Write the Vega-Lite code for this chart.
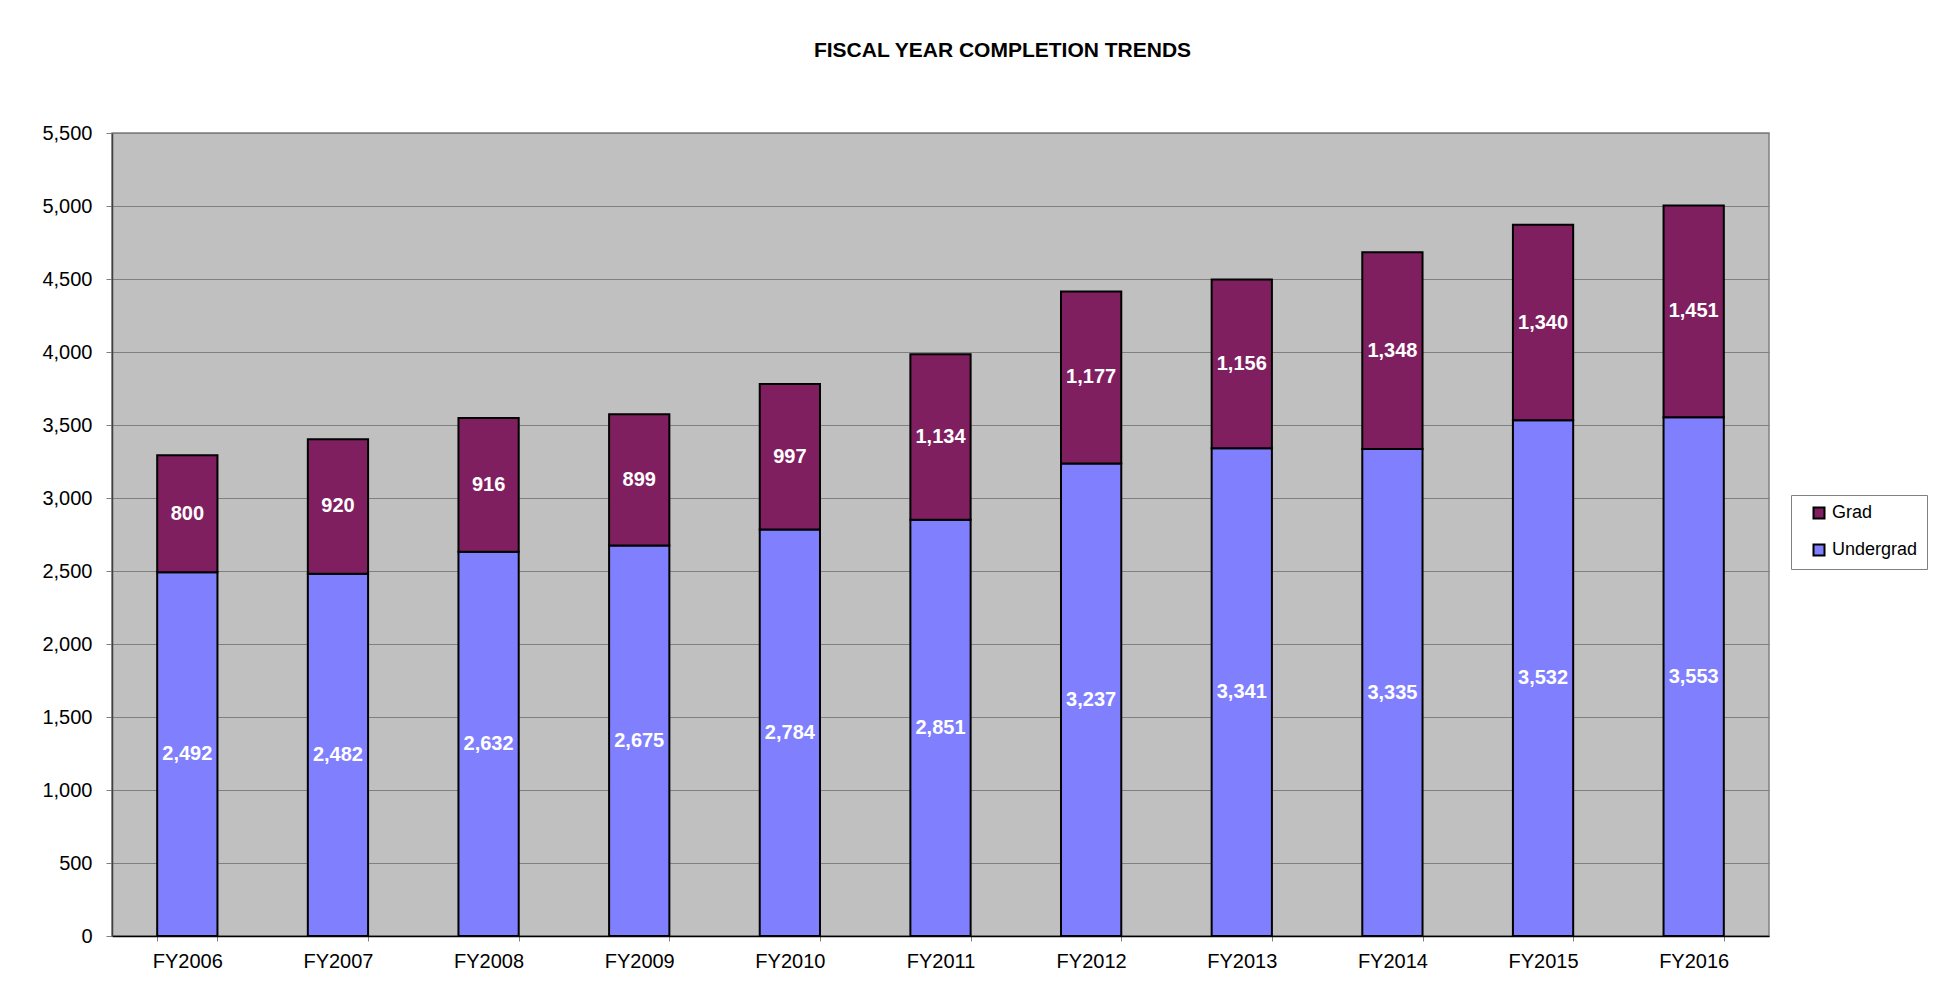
{
  "$schema": "https://vega.github.io/schema/vega-lite/v6.json",
  "width": 1657,
  "height": 803,
  "autosize": {"type": "none"},
  "padding": {"left": 112, "top": 133, "right": 182, "bottom": 64},
  "background": "white",
  "title": {
    "text": "FISCAL YEAR COMPLETION TRENDS",
    "font": "Liberation Sans",
    "fontSize": 21,
    "fontWeight": "bold",
    "color": "black",
    "anchor": "middle",
    "offset": 62,
    "dx": 62
  },
  "config": {
    "font": "Liberation Sans",
    "view": {"fill": "#C0C0C0", "stroke": "#808080", "strokeWidth": 1.5}
  },
  "data": {
    "values": [
      {"year": "FY2006", "type": "Undergrad", "value": 2492},
      {"year": "FY2006", "type": "Grad", "value": 800},
      {"year": "FY2007", "type": "Undergrad", "value": 2482},
      {"year": "FY2007", "type": "Grad", "value": 920},
      {"year": "FY2008", "type": "Undergrad", "value": 2632},
      {"year": "FY2008", "type": "Grad", "value": 916},
      {"year": "FY2009", "type": "Undergrad", "value": 2675},
      {"year": "FY2009", "type": "Grad", "value": 899},
      {"year": "FY2010", "type": "Undergrad", "value": 2784},
      {"year": "FY2010", "type": "Grad", "value": 997},
      {"year": "FY2011", "type": "Undergrad", "value": 2851},
      {"year": "FY2011", "type": "Grad", "value": 1134},
      {"year": "FY2012", "type": "Undergrad", "value": 3237},
      {"year": "FY2012", "type": "Grad", "value": 1177},
      {"year": "FY2013", "type": "Undergrad", "value": 3341},
      {"year": "FY2013", "type": "Grad", "value": 1156},
      {"year": "FY2014", "type": "Undergrad", "value": 3335},
      {"year": "FY2014", "type": "Grad", "value": 1348},
      {"year": "FY2015", "type": "Undergrad", "value": 3532},
      {"year": "FY2015", "type": "Grad", "value": 1340},
      {"year": "FY2016", "type": "Undergrad", "value": 3553},
      {"year": "FY2016", "type": "Grad", "value": 1451}
    ]
  },
  "transform": [
    {"stack": "value", "groupby": ["year"], "sort": [{"field": "type", "order": "descending"}], "as": ["v0", "v1"]},
    {"calculate": "(datum.v0 + datum.v1) / 2", "as": "vmid"}
  ],
  "encoding": {
    "x": {
      "field": "year",
      "type": "nominal",
      "sort": null,
      "scale": {"paddingInner": 0.6, "paddingOuter": 0.3},
      "axis": {
        "title": null,
        "labelAngle": 0,
        "labelFontSize": 20,
        "labelColor": "black",
        "labelPadding": 10,
        "tickBand": "extent",
        "tickSize": 5,
        "tickColor": "#808080",
        "domainColor": "black",
        "domainWidth": 1.5,
        "grid": false
      }
    }
  },
  "layer": [
    {
      "mark": {"type": "bar", "stroke": "black", "strokeWidth": 2},
      "encoding": {
        "y": {
          "field": "v0",
          "type": "quantitative",
          "scale": {"domain": [0, 5500], "nice": false},
          "axis": {
            "title": null,
            "values": [0, 500, 1000, 1500, 2000, 2500, 3000, 3500, 4000, 4500, 5000, 5500],
            "format": ",.0f",
            "labelFontSize": 20,
            "labelColor": "black",
            "labelPadding": 14,
            "tickSize": 6,
            "tickColor": "#808080",
            "domainColor": "#404040",
            "domainWidth": 1.5,
            "grid": true,
            "gridColor": "#808080",
            "gridWidth": 1
          }
        },
        "y2": {"field": "v1"},
        "color": {
          "field": "type",
          "type": "nominal",
          "scale": {"domain": ["Grad", "Undergrad"], "range": ["#7F1F5F", "#8080FF"]},
          "legend": {
            "title": null,
            "orient": "none",
            "legendX": 1679,
            "legendY": 362,
            "symbolType": "square",
            "symbolSize": 121,
            "symbolStrokeColor": "black",
            "symbolStrokeWidth": 2,
            "symbolOffset": 10,
            "labelFontSize": 18,
            "labelColor": "black",
            "labelOffset": 4,
            "rowPadding": 17,
            "padding": 9,
            "strokeColor": "#808080",
            "fillColor": "white"
          }
        }
      }
    },
    {
      "mark": {"type": "text", "color": "white", "fontSize": 20, "fontWeight": "bold", "baseline": "middle", "align": "center"},
      "encoding": {
        "y": {"field": "vmid", "type": "quantitative"},
        "text": {"field": "value", "type": "quantitative", "format": ","}
      }
    }
  ]
}
